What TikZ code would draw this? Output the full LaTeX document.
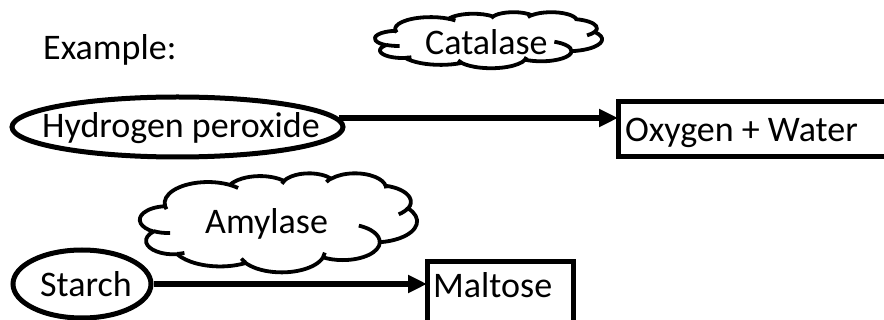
\documentclass[tikz,border=0pt]{standalone}
\usepackage{fontspec}
\setmainfont{Carlito}
\usetikzlibrary{arrows.meta,shapes.geometric}
% PowerPoint-like cloud geometry (43200 units / 10), visual angles -> parametric
\newcommand\ooprep[5]{%
  \pgfmathsetmacro\ootA{atan2((#2)*sin(#4),(#3)*cos(#4))}%
  \pgfmathsetmacro\ootB{atan2((#2)*sin(#4+#5),(#3)*cos(#4+#5))}%
  \pgfmathsetmacro\ootD{\ootB-\ootA}%
  \pgfmathsetmacro\ootD{\ootD<0 ? \ootD+360 : \ootD}%
  \expandafter\xdef\csname ooarc#1\endcsname{arc[start angle=\ootA, delta angle=\ootD, x radius=#2, y radius=#3]}%
}
\ooprep{A}{675.3}{919.0}{-190.48748}{123.78053}
\ooprep{B}{533.3}{726.7}{-144.10238}{89.94523}
\ooprep{C}{436.5}{594.5}{-145.80792}{99.72302}
\ooprep{D}{485.7}{659.5}{-130.98607}{117.24173}
\ooprep{E}{533.3}{727.3}{-78.70888}{109.02692}
\ooprep{F}{677.5}{922.0}{-46.26725}{130.269}
\ooprep{G}{578.5}{786.7}{0.62502}{114.03333}
\ooprep{H}{675.2}{921.5}{22.4516}{115.17255}
\ooprep{I}{772.0}{1054.3}{66.24263}{75.71102}
\ooprep{J}{436.0}{591.8}{-274.94208}{146.73557}
\ooprep{K}{434.5}{594.5}{-246.8285}{152.51885}
\ooprep{a}{434.5}{594.5}{86.742}{26.4295}
\ooprep{b}{436.0}{591.8}{73.61047}{11.44747}
\ooprep{c}{675.2}{921.5}{137.62415}{14.0811}
\ooprep{d}{675.2}{921.5}{6.45327}{15.99835}
\ooprep{e}{578.5}{786.7}{-70.29235}{70.91737}
\ooprep{f}{533.3}{727.3}{30.31803}{27.7515}
\ooprep{g}{485.7}{659.5}{-13.74433}{14.8589}
\ooprep{h}{485.7}{659.5}{-149.18145}{18.19537}
\ooprep{i}{436.5}{594.5}{-163.49427}{17.68635}
\ooprep{j}{675.3}{919.0}{-66.70695}{12.31935}
\ooprep{k}{675.3}{919.0}{157.65435}{11.85817}
\newcommand\cloudpaths{%
  \draw[cloudline, fill=white] (390,1437) \ooarcA \ooarcB \ooarcC \ooarcD \ooarcE
    \ooarcF \ooarcG \ooarcH \ooarcI \ooarcJ \ooarcK -- cycle;
  \draw[cloudline] (469.3,2617.7) \ooarca (692.8,3489.9) \ooarcb
    (1647.8,3909.0) \ooarcc (2882.7,3475.1) \ooarcd (3412.9,2295.4) \ooarce
    (4179.8,1535.4) \ooarcf (3832.4,542.6) \ooarcg (2907.8,395.2) \ooarch
    (2214.1,472.0) \ooarci (1400.0,519.2) \ooarcj (412.7,1578.9) \ooarck;
}
\begin{document}
\begin{tikzpicture}[x=1pt,y=-1pt,
  every node/.style={font=\fontsize{36}{43}\selectfont, inner sep=0pt},
  txt/.style={anchor=base west},
  cloudline/.style={line width=3.8pt, line join=round},
  oval/.style={ellipse, draw, line width=5pt},
  boxnode/.style={draw, rectangle, line width=5pt, outer sep=0pt, anchor=north west},
  arr/.style={line width=5.5pt, -{Triangle[length=19pt,width=17pt]}}]
\useasboundingbox (0,0) rectangle (884,320);
\fill[white] (0,0) rectangle (884,320);
% clouds
\begin{scope}[shift={(375,12)}, x=0.052546pt, y=-0.012963pt]
  \cloudpaths
\end{scope}
\begin{scope}[shift={(140,173)}, x=0.064120pt, y=-0.022917pt]
  \cloudpaths
\end{scope}
% shapes
\node[oval, minimum width=331pt, minimum height=60pt] (hp) at (177.5,127) {};
\node[oval, minimum width=138pt, minimum height=68pt] (st) at (82,284) {};
\node[boxnode, minimum width=274pt, minimum height=55pt] (ow) at (618,102) {};
\node[boxnode, minimum width=146pt, minimum height=70pt] (mal) at (427,262) {};
% texts
\node[txt] (ex) at (43,60) {Example:};
\node[txt] (cat) at (425,55) {Catalase};
\node[txt] (hpt) at (42,138) {Hydrogen peroxide};
\node[txt] (owt) at (625,142) {Oxygen + Water};
\node[txt] (amy) at (205,234) {Amylase};
\node[txt] (stt) at (40,297) {Starch};
\node[txt] (malt) at (433,298) {Maltose};
% connectors
\coordinate (hpa) at ([shift={(-7pt,9pt)}]hp.east);
\draw[arr] (hpa) -- (hpa -| ow.west);
\draw[arr] (st.east) -- (st.east -| mal.west);
\end{tikzpicture}
\end{document}
